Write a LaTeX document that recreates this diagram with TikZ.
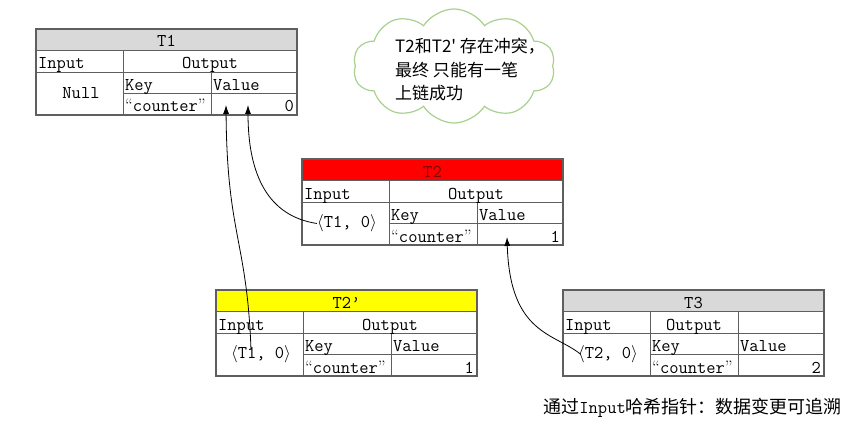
\documentclass[tikz,border=0pt]{standalone}
\usepackage{fontspec}
\newfontfamily\cjk{Noto Sans CJK SC}
\usetikzlibrary{positioning,shapes.symbols,arrows.meta}
\definecolor{gridgray}{RGB}{95,95,95}
\definecolor{headgray}{RGB}{217,217,217}
\definecolor{headred}{RGB}{255,0,0}
\definecolor{headyellow}{RGB}{255,255,0}
\definecolor{titlered}{RGB}{130,0,0}
\definecolor{cloudgreen}{RGB}{169,209,142}

\tikzset{
  cell/.style={draw=gridgray, line width=0.8pt},
  frame/.style={draw=gridgray, line width=1.1pt},
  txt/.style={font=\ttfamily\fontsize{18}{20}\selectfont, inner sep=0pt},
  link/.style={-{Latex[length=9pt,width=6pt]}, line width=0.8pt},
}

% one transaction table: name, x, y, head fill, title, input, value, x of "Output"
\newcommand{\txtable}[8]{%
  \begin{scope}[shift={(#2,#3)}]
    \fill[#4] (0,0) rectangle (261,21.5);
    \draw[cell] (0,21.5) -- (261,21.5) (0,43) -- (261,43) (87,64.5) -- (261,64.5)
      (87,21.5) -- (87,86) (175,43) -- (175,86);
    \draw[frame] (0,0) rectangle (261,86);
    \node[txt, anchor=base] (#1) at (130.5,18) {#5};
    \node[txt, anchor=base west] (#1-inhead) at (2,40) {Input};
    \node[txt, anchor=base] (#1-outhead) at (#8,40) {Output};
    \node[txt] (#1-in) at (45,64.5) {#6};
    \node[txt, anchor=base west] (#1-key) at (89,61.5) {Key};
    \node[txt, anchor=base west] (#1-val) at (177,61.5) {Value};
    \node[txt, anchor=base west] (#1-cnt) at (89,83) {{\rmfamily“}counter{\rmfamily”}};
    \node[txt, anchor=base east] (#1-num) at (258,83) {#7};
  \end{scope}}

\begin{document}
\begin{tikzpicture}[x=1pt,y=-1pt]
  \useasboundingbox[fill=white] (0,0) rectangle (862,433);

  \txtable{T1}{36}{29}{headgray}{T1}{Null}{0}{174}
  \txtable{T2}{302}{159}{headred}{\color{titlered}T2}{$\langle$T1, 0$\rangle$}{1}{174}
  \txtable{T2p}{216}{290}{headyellow}{T2’}{$\langle$T1, 0$\rangle$}{1}{174}
  \txtable{T3}{563}{290}{headgray}{T3}{$\langle$T2, 0$\rangle$}{2}{131}
  \draw[cell] (738,311.5) -- (738,333);

  % conflict note
  \node[cloud, cloud puffs=10, cloud puff arc=115, aspect=1.75, draw=cloudgreen,
        line width=1.2pt, minimum width=202pt, minimum height=114pt] (conflict) at (454,66) {};
  \node[anchor=north west, align=left, inner sep=0pt,
        font=\cjk\fontsize{17}{23.5}\selectfont] (conflictnote) at (395,38)
        {T2和T2' 存在冲突，\\最终 只能有一笔\\上链成功};

  % hash pointers
  \coordinate (T1-tipA) at (226,105);
  \coordinate (T1-tipB) at (248,105);
  \coordinate (T2-tip) at (507,237);
  \draw[link] (T2-in.west) .. controls (268,216) and (248,175) .. (T1-tipB);
  \draw[link] ([xshift=-10pt,yshift=-4pt]T2p-in.north) .. controls (247,240) and (227,235) .. (T1-tipA);
  \draw[link] ([xshift=3pt]T3-in.west) .. controls (555,333) and (510,335) .. (T2-tip);

  \node[anchor=east, inner sep=0pt, font=\cjk\fontsize{18}{20}\selectfont] (caption)
        at (842,408) {通过{\ttfamily Input}哈希指针：数据变更可追溯};
\end{tikzpicture}
\end{document}
